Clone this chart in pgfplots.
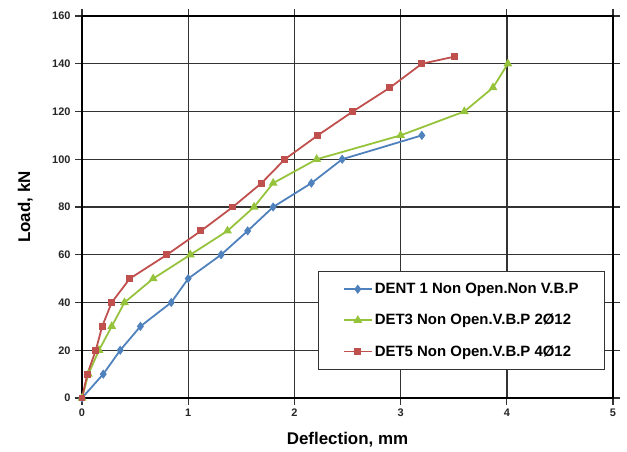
\documentclass[border=0pt]{standalone}
\usepackage{fontspec}
\setmainfont{Liberation Sans}
\usepackage{pgfplots}
\pgfplotsset{compat=1.18}
\definecolor{cblue}{RGB}{79,129,189}
\definecolor{cgreen}{RGB}{150,195,60}
\definecolor{cred}{RGB}{192,80,77}
\begin{document}
\begin{tikzpicture}
\path[use as bounding box] (-82bp,-54bp) rectangle (545bp,398bp);
\begin{axis}[
  scale only axis,
  width=531bp, height=382bp,
  xmin=0, xmax=5, ymin=0, ymax=160,
  xtick={0,1,2,3,4,5}, ytick={0,20,...,160},
  grid=major,
  major grid style={black!80, line width=1.4pt},
  axis line style={black, line width=1.8pt},
  tick style={black!80, line width=1.2pt},
  tick align=outside,
  major tick length=7bp,
  /pgf/number format/assume math mode=true,
  ticklabel style={font=\fontsize{11}{12}\selectfont\bfseries, text=black!85},
  yticklabel style={xshift=-1bp},
  xlabel={Deflection, mm},
  ylabel={Load, kN},
  label style={font=\fontsize{17}{19}\selectfont\bfseries},
  xlabel style={at={(axis description cs:0.5,-0.11)}, anchor=center},
  ylabel style={at={(axis description cs:-0.107,0.5)}, anchor=center},
  legend cell align=left,
  legend style={
    at={(0.985,0.073)}, anchor=south east,
    draw=black!80, line width=1pt,
    font=\fontsize{15}{16}\selectfont\bfseries,
    row sep=15bp, inner xsep=24bp, inner ysep=10bp,
  },
  legend image code/.code={\draw[mark repeat=2,mark phase=2] plot coordinates {(0cm,0cm)(0.5cm,0cm)(1cm,0cm)};},
]
\addplot[color=cblue, line width=1.8pt, mark=diamond*, mark size=3.2pt, mark options={solid}]
coordinates {(0,0)(0.2,10)(0.36,20)(0.55,30)(0.84,40)(1.0,50)(1.31,60)(1.56,70)(1.8,80)(2.16,90)(2.45,100)(3.2,110)};
\addlegendentry{DENT 1 Non Open.Non V.B.P}
\addplot[color=cgreen, line width=1.8pt, mark=triangle*, mark size=3.4pt, mark options={solid}]
coordinates {(0,0)(0.06,10)(0.16,20)(0.28,30)(0.4,40)(0.67,50)(1.02,60)(1.37,70)(1.62,80)(1.8,90)(2.21,100)(3.0,110)(3.6,120)(3.87,130)(4.01,140)};
\addlegendentry{DET3 Non Open.V.B.P 2Ø12}
\addplot[color=cred, line width=1.8pt, mark=square*, mark size=2.6pt, mark options={solid}]
coordinates {(0,0)(0.05,10)(0.13,20)(0.19,30)(0.28,40)(0.45,50)(0.8,60)(1.12,70)(1.42,80)(1.69,90)(1.91,100)(2.22,110)(2.55,120)(2.9,130)(3.2,140)(3.51,143)};
\addlegendentry{DET5 Non Open.V.B.P 4Ø12}
\end{axis}
\end{tikzpicture}
\end{document}
